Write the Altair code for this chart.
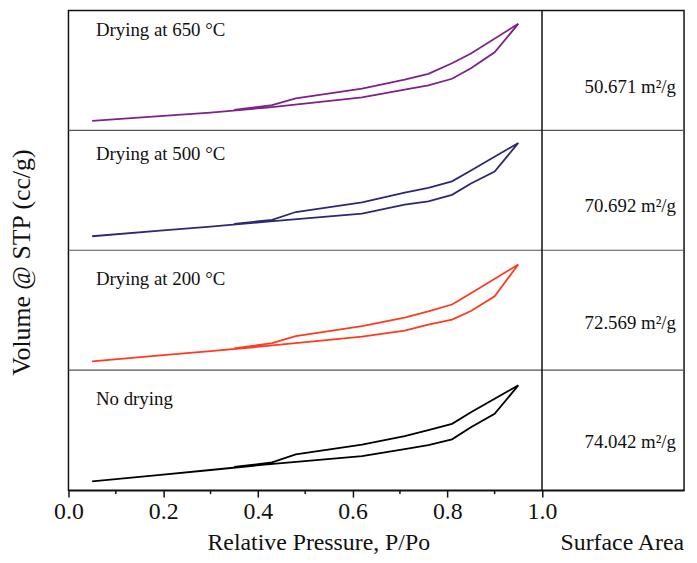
import altair as alt
import pandas as pd

# ---- data ----
samples = ["No drying", "Drying at 200 °C", "Drying at 500 °C", "Drying at 650 °C"]
colors = ["#000000", "#FF3A1F", "#2D2872", "#7E2188"]
surface_area = [74.042, 72.569, 70.692, 50.671]

# adsorption branch (low -> high P/Po), relative volume inside each panel
p_ads = [0.05, 0.20, 0.30, 0.42, 0.62, 0.71, 0.76, 0.81, 0.85, 0.90, 0.95]
v_ads_none = [0.073, 0.130, 0.168, 0.215, 0.284, 0.342, 0.375, 0.424, 0.525, 0.636, 0.874]
v_ads_200 = [0.074, 0.125, 0.160, 0.202, 0.280, 0.330, 0.381, 0.422, 0.493, 0.617, 0.882]
v_ads_500 = [0.117, 0.165, 0.198, 0.238, 0.305, 0.380, 0.408, 0.462, 0.557, 0.656, 0.895]
v_ads_650 = [0.079, 0.120, 0.148, 0.190, 0.274, 0.340, 0.375, 0.430, 0.518, 0.650, 0.888]

# desorption branch (high -> low P/Po)
p_des = [0.85, 0.81, 0.76, 0.71, 0.62, 0.48, 0.43, 0.35]
v_des_none = [0.649, 0.553, 0.500, 0.451, 0.380, 0.298, 0.232, 0.193]
v_des_200 = [0.641, 0.548, 0.490, 0.438, 0.367, 0.285, 0.225, 0.183]
v_des_500 = [0.665, 0.575, 0.520, 0.480, 0.400, 0.319, 0.254, 0.220]
v_des_650 = [0.641, 0.559, 0.471, 0.422, 0.348, 0.266, 0.211, 0.170]

x_major = [0.0, 0.2, 0.4, 0.6, 0.8, 1.0]
x_minor = [0.1, 0.3, 0.5, 0.7, 0.9]

ads_sets = [v_ads_none, v_ads_200, v_ads_500, v_ads_650]
des_sets = [v_des_none, v_des_200, v_des_500, v_des_650]

FONT = "Liberation Serif"

rows = []
for k, s in enumerate(samples):
    i = 0
    for p, v in zip(p_ads, ads_sets[k]):
        rows.append({"sample": s, "p": p, "y": k + v, "i": i}); i += 1
    for p, v in zip(p_des, des_sets[k]):
        rows.append({"sample": s, "p": p, "y": k + v, "i": i}); i += 1
curves = pd.DataFrame(rows)

label_v = [0.76, 0.76, 0.80, 0.84]
area_v = [0.40, 0.39, 0.37, 0.36]
labels = pd.DataFrame({
    "sample": samples,
    "ly": [k + label_v[k] for k in range(4)],
    "ay": [k + area_v[k] for k in range(4)],
    "area": [f"{a:.3f} m²/g" for a in surface_area],
})

xs = alt.Scale(domain=[0, 1.3], nice=False, zero=False)
ys = alt.Scale(domain=[0, 4], nice=False, zero=False)

x_axis = alt.Axis(
    values=x_major, format=".1f", labelFlush=False, grid=False,
    labelFont=FONT, labelFontSize=24, labelColor="#111", labelPadding=3,
    tickSize=7, tickWidth=1.5, tickColor="#111", domainColor="#111", domainWidth=1.5,
    title="Relative Pressure, P/Po", titleFont=FONT, titleFontSize=24,
    titleFontWeight="normal", titleColor="#111",
    titleX=252, titleY=53, titleAlign="center", titleBaseline="middle",
)
y_axis = alt.Axis(
    labels=False, ticks=False, domain=False, grid=False,
    title="Volume @ STP (cc/g)", titleFont=FONT, titleFontSize=26,
    titleFontWeight="normal", titleColor="#111",
    titleX=-47, titleY=254, titleBaseline="middle", titleAlign="center",
)

lines = alt.Chart(curves).mark_line(strokeWidth=1.8).encode(
    x=alt.X("p:Q", scale=xs, axis=x_axis),
    y=alt.Y("y:Q", scale=ys, axis=y_axis),
    color=alt.Color("sample:N", scale=alt.Scale(domain=samples, range=colors), legend=None),
    detail="sample:N",
    order="i:Q",
)

dividers = alt.Chart(pd.DataFrame({"y": [1, 2, 3]})).mark_rule(
    color="#555", strokeWidth=1.2
).encode(y=alt.Y("y:Q", scale=ys))

vline = alt.Chart(pd.DataFrame({"x": [1.0]})).mark_rule(
    color="#111", strokeWidth=1.5
).encode(x=alt.X("x:Q", scale=xs))

minor = alt.Chart(pd.DataFrame({"x": x_minor})).mark_rule(
    color="#111", strokeWidth=1.5
).encode(x=alt.X("x:Q", scale=xs), y=alt.value(484), y2=alt.value(488))

panel_text = alt.Chart(labels).mark_text(
    align="left", baseline="middle", font=FONT, fontSize=19, color="#111"
).encode(x=alt.datum(0.058, scale=xs), y=alt.Y("ly:Q", scale=ys), text="sample:N")

area_text = alt.Chart(labels).mark_text(
    align="right", baseline="middle", font=FONT, fontSize=19, color="#111"
).encode(x=alt.datum(1.283, scale=xs), y=alt.Y("ay:Q", scale=ys), text="area:N")

sa_title = alt.Chart(pd.DataFrame({"t": ["Surface Area"]})).mark_text(
    align="right", baseline="middle", font=FONT, fontSize=24, color="#111"
).encode(x=alt.datum(1.3, scale=xs), y=alt.value(537), text="t:N")

chart = alt.layer(
    dividers, vline, minor, lines, panel_text, area_text, sa_title
).properties(
    width=621, height=484,
    autosize=alt.AutoSizeParams(type="none"),
    padding={"left": 61, "top": 0, "right": 5, "bottom": 62},
).configure_view(
    stroke="#111", strokeWidth=1.5
)

chart.save("out.html", embed_options={"renderer": "svg", "actions": False})
